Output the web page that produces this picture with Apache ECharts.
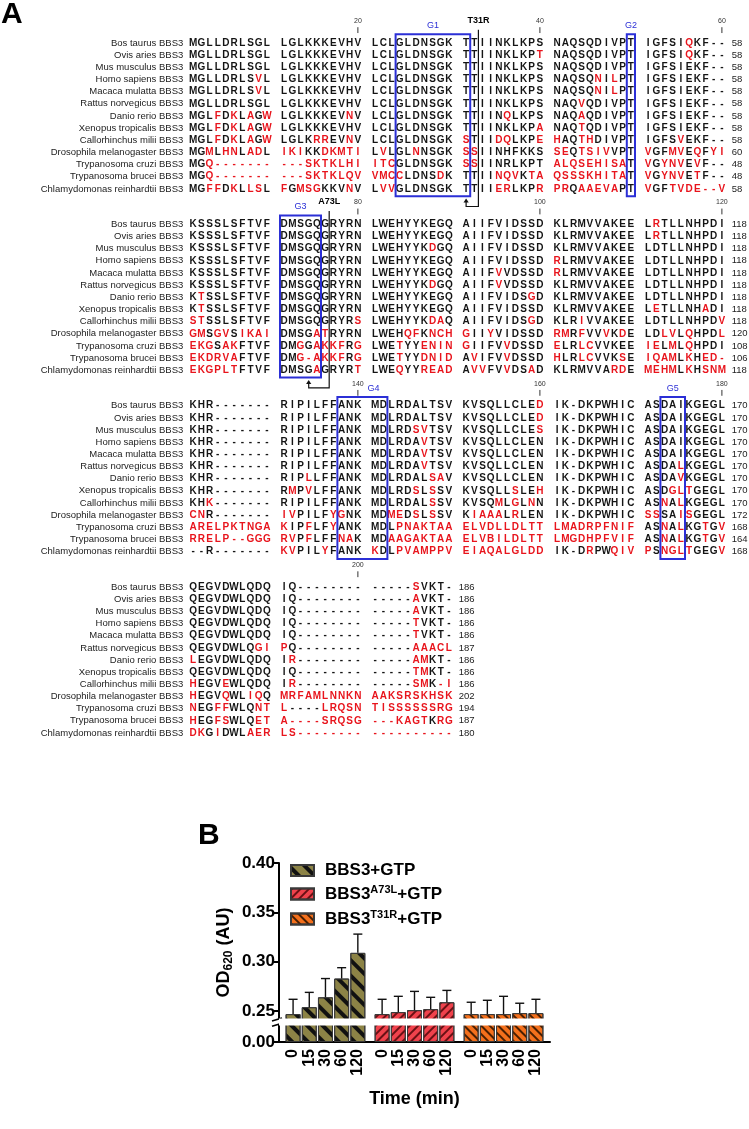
<!DOCTYPE html>
<html><head><meta charset="utf-8">
<script src="https://cdn.jsdelivr.net/npm/echarts@6/dist/echarts.min.js"></script>
<style>html,body{margin:0;padding:0;background:#fff}#c{width:749px;height:1129px}</style>
</head><body><div id="c"></div>
<script>
// ---------------- DATA: panel A (sequence alignment) ----------------
// lowercase = residue shown in red, "~" = red gap, "-" = black gap
const speciesNames = ['Bos taurus BBS3','Ovis aries BBS3','Mus musculus BBS3','Homo sapiens BBS3','Macaca mulatta BBS3','Rattus norvegicus BBS3','Danio rerio BBS3','Xenopus tropicalis BBS3','Callorhinchus milii BBS3','Drosophila melanogaster BBS3','Trypanosoma cruzi BBS3','Trypanosoma brucei BBS3','Chlamydomonas reinhardtii BBS3'];
const block1 = [
 'MGLLDRLSGL LGLKKKEVHV LCLGLDNSGK TTIINKLKPS NAQSQDIVPT IGFSIqKF--',
 'MGLLDRLSGL LGLKKKEVHV LCLGLDNSGK TTIINKLKPt NAQSQDIVPT IGFSIqKF--',
 'MGLLDRLSGL LGLKKKEVHV LCLGLDNSGK TTIINKLKPS NAQSQDIVPT IGFSIEKF--',
 'MGLLDRLSvL LGLKKKEVHV LCLGLDNSGK TTIINKLKPS NAQSQnIlPT IGFSIEKF--',
 'MGLLDRLSvL LGLKKKEVHV LCLGLDNSGK TTIINKLKPS NAQSQnIlPT IGFSIEKF--',
 'MGLLDRLSGL LGLKKKEVHV LCLGLDNSGK TTIINKLKPS NAQvQDIVPT IGFSIEKF--',
 'MGLfDkLaGw LGLKKKEVnV LCLGLDNSGK TTIINqLKPS NAQaQDIVPT IGFSIEKF--',
 'MGLfDkLaGw LGLKKKEVHV LCLGLDNSGK TTIINKLKPa NAQtQDIVPT IGFSIEKF--',
 'MGLfDkLaGw LGLKrrEVnV LCLGLDNSGK sTIIdqLKPe hAQthDIVPT IGFSvEKF--',
 'MGmLhnLadL ikiKKdkmti LvLGLnNSGK ssIINHFKKS seQtsivVPT vGFmvEqFyi',
 'MGq~~~~~~~ ~~~sktklhi itcGLDNSGK ssIINRLKPT alqsehisaT vGynvEvF--',
 'MGq~~~~~~~ ~~~sktklqv vmccLDNSdK TTIInqvKta qssskhitaT vGynvEtF--',
 'MGffDkLlsL fGmsgKKVnV LvvGLDNSGK TTIIerLKPr prQaaevaPT vGFtvde~~v'];
const block2 = [
 'KSSSLSFTVF DMSGQGRYRN LWEHYYKEGQ AIIFVIDSSD KLRMVVAKEE LrTLLNHPDI',
 'KSSSLSFTVF DMSGQGRYRN LWEHYYKEGQ AIIFVIDSSD KLRMVVAKEE LrTLLNHPDI',
 'KSSSLSFTVF DMSGQGRYRN LWEHYYKdGQ AIIFVIDSSD KLRMVVAKEE LDTLLNHPDI',
 'KSSSLSFTVF DMSGQGRYRN LWEHYYKEGQ AIIFVIDSSD rLRMVVAKEE LDTLLNHPDI',
 'KSSSLSFTVF DMSGQGRYRN LWEHYYKEGQ AIIFvVDSSD rLRMVVAKEE LDTLLNHPDI',
 'KSSSLSFTVF DMSGQGRYRN LWEHYYKdGQ AIIFvVDSSD KLRMVVAKEE LDTLLNHPDI',
 'KtSSLSFTVF DMSGQGRYRN LWEHYYKEGQ AIIFVIDSgD KLRMVVAKEE LDTLLNHPDI',
 'KtSSLSFTVF DMSGQGRYRN LWEHYYKEGQ AIIFVIDSSD KLRMVVAKEE LeTLLNHaDI',
 'stSSLSFTVF DMSGQGRYRs LWEHYYKdaQ AIIFVIDSgD KLRiVVAKEE LDTLLNHPDv',
 'gmSgvSikai DMSGatRYRN LWEHqfKnch gIIyVIDSSD rmRfVVvKdE LDlvLqHPDl',
 'ekgSakFTVF DMgGakkfRg LWEtYYenin gIIFVvDSSD eLRlcVVKEE ieLmLqHPDI',
 'ekdrvaFTVF DMg~akkfRg LWEtYYdnid AvIFVvDSSD hLRlcVVKsE iqamLkHed~',
 'ekgpltFTVF DMSGaGRYRt LWEqYYread AvvFVvDSaD KLRMVVArdE mehmLkHsnm'];
const block3 = [
 'KHR------- RIPILFFANK MDLRDALTSV KVSQLLCLEd IK-DKPWHIC ASDAIKGEGL',
 'KHR------- RIPILFFANK MDLRDALTSV KVSQLLCLEd IK-DKPWHIC ASDAIKGEGL',
 'KHR------- RIPILFFANK MDLRDsvTSV KVSQLLCLEs IK-DKPWHIC ASDAIKGEGL',
 'KHR------- RIPILFFANK MDLRDAvTSV KVSQLLCLEN IK-DKPWHIC ASDAIKGEGL',
 'KHR------- RIPILFFANK MDLRDAvTSV KVSQLLCLEN IK-DKPWHIC ASDAIKGEGL',
 'KHR------- RIPILFFANK MDLRDAvTSV KVSQLLCLEN IK-DKPWHIC ASDAlKGEGL',
 'KHR------- RIPlLFFANK MDLRDALsaV KVSQLLCLEN IK-DKPWHIC ASDAvKGEGL',
 'KHR------- RmPvLFFANK MDLRDsLsSV KVSQLLsLEh IK-DKPWHIC ASDgltGEGL',
 'KHk------- RIPILFFANK MDLRDALsSV KVSQmLgLnN IK-DKPWHIC ASnAlKGEGL',
 'cnR------- ivPILFygNK MDmeDsLsSV KiaaaLrLEN IK-DKPWHIC ssSAisGEGL',
 'arelpktnga kIPfLFyANK MDLpnaktaa elvdlldltt lmadrpfnif ASnAlKGtGv',
 'rrelp~~ggg rvPfLFFnaK MDaagaktaa elvbildltt lmgdhpfvif ASnAlKGtGv',
 '--R------- kvPILyFANK kDLpvamppv eiaqalgldd IK-DrPWqiv pSngltGEGv'];
const block4 = [
 'QEGVDWLQDQ IQ-------- -----sVKT-',
 'QEGVDWLQDQ IQ-------- -----aVKT-',
 'QEGVDWLQDQ IQ-------- -----aVKT-',
 'QEGVDWLQDQ IQ-------- -----tVKT-',
 'QEGVDWLQDQ IQ-------- -----tVKT-',
 'QEGVDWLQgi pQ-------- -----aaacl',
 'lEGVDWLQDQ Ir-------- -----amKT-',
 'QEGVDWLQDQ IQ-------- -----tmKT-',
 'hEGVeWLQDQ Ir-------- -----smK~i',
 'hEGVqWLiqQ mrfamlnnkn aaksrskhsk',
 'nEGffWLQnt l----lrqsn tissssssrg',
 'hEGfsWLQet a~~~~srqsg ~~~kagtKrg',
 'dkGiDWLaer ls~~~~~~~~ ~~~~~~~~~~'];
const block1Ends = [58,58,58,58,58,58,58,58,58,60,48,48,58];
const block2Ends = [118,118,118,118,118,118,118,118,118,120,108,106,118];
const block3Ends = [170,170,170,170,170,170,170,170,170,172,168,164,168];
const block4Ends = [186,186,186,186,186,187,186,186,186,202,194,187,180];
const blockFirstResidue = [1,61,121,181];
const rulerMarks = [[0,20],[0,40],[0,60],[1,80],[1,100],[1,120],[2,140],[2,160],[2,180],[3,200]];
const motifNames = ['G1','G2','G3','G4','G5'];
const motifBlocks = [0,0,1,2,2];
const motifFrom = [24,50,71,138,173];
const motifTo   = [31,50,75,142,175];
const mutationNames = ['T31R','A73L'];
const mutationBlocks = [0,1];
const mutationLinePos = [32,76];
const mutationArrowPos = [31,74];

// ---------------- DATA: panel B (GTPase assay) ----------------
const timeLabels = ['0','15','30','60','120'];
const seriesNames = ['BBS3+GTP','BBS3 A73L+GTP','BBS3 T31R+GTP'];
const seriesSup = ['','A73L','T31R'];
const wtMean   = [0.247,0.254,0.264,0.283,0.309];
const wtErr    = [0.015,0.015,0.019,0.011,0.019];
const a73lMean = [0.247,0.249,0.251,0.252,0.259];
const a73lErr  = [0.015,0.016,0.019,0.012,0.012];
const t31rMean = [0.247,0.247,0.247,0.248,0.248];
const t31rErr  = [0.012,0.014,0.018,0.010,0.014];
const yTickValues = [0, 0.25, 0.30, 0.35, 0.40];

// ---------------- layout helpers ----------------
const GAP = 1.1, P = 14.92;
const RED = '#e8141c', BLK = '#141414', BLUE = '#2b2fd6';
const SEQFONT = 'bold 10px "Liberation Sans", Arial, sans-serif';
const NARROW = '"Liberation Sans Narrow","Arial Narrow","Liberation Sans",Arial,sans-serif';
function colOf(j){ return j + Math.floor(j/10)*GAP; }
const blocks = [block1, block2, block3, block4];
const blockEnds = [block1Ends, block2Ends, block3Ends, block4Ends];

const resText = [], resData = [];
const nameData = [], endText = [], endData = [];
blocks.forEach((blk,b)=>blk.forEach((s,r)=>{
  const str = s.replace(/ /g,'');
  for (let j=0;j<str.length;j++){
    const ch = str[j];
    const red = ch==='~' || (ch>='a' && ch<='z');
    resText.push(ch==='~' ? '-' : ch.toUpperCase());
    resData.push([colOf(j)+0.5, b*P+r, red?1:0]);
  }
  nameData.push([-0.7, b*P+r, r]);
  endText.push(String(blockEnds[b][r]));
  endData.push([colOf(str.length-1)+1.7, b*P+r]);
}));
const rulerData = rulerMarks.map(m=>[colOf(m[1]-blockFirstResidue[m[0]])+0.5, m[0]*P, m[1]]);
const boxData = motifNames.map((n,i)=>{const b=motifBlocks[i], f=blockFirstResidue[b];
  return [colOf(motifFrom[i]-f), colOf(motifTo[i]-f)+1, b*P, i];});
const mutData = mutationNames.map((n,i)=>{const b=mutationBlocks[i], f=blockFirstResidue[b];
  return [colOf(mutationLinePos[i]-f)+1, colOf(mutationArrowPos[i]-f)+0.5, b*P, i];});

// ---------------- panel B data ----------------
const means = [wtMean, a73lMean, t31rMean];
const errs = [wtErr, a73lErr, t31rErr];
const barStyles = [
  {color:'#8c8346', decal:{symbol:'rect', symbolSize:1, dashArrayX:[1,0], dashArrayY:[4,7], rotation:Math.PI/4, color:'#111'}},
  {color:'#f0424c', decal:{symbol:'rect', symbolSize:1, dashArrayX:[1,0], dashArrayY:[1.6,3.2], rotation:-Math.PI/4, color:'#6a1014'}},
  {color:'#f4701c', decal:{symbol:'rect', symbolSize:1, dashArrayX:[1,0], dashArrayY:[1.6,3.2], rotation:Math.PI/4, color:'#4a1e00'}}
];
const barPos = (g,i)=> g*5.5 + i;
const barCustomValues = [];
[0,1,2].forEach(g=>timeLabels.forEach((t,i)=>barCustomValues.push(barPos(g,i))));

const seriesB = [];
means.forEach((m,g)=>{
  seriesB.push({
    type:'bar', name:seriesNames[g], xAxisIndex:1, yAxisIndex:1, barWidth:15, barGap:'-100%',
    data:m.map((v,i)=>[barPos(g,i), v]),
    itemStyle:{color:barStyles[g].color, borderColor:'#3a3a3a', borderWidth:1, decal:barStyles[g].decal},
    z:2
  });
  seriesB.push({
    type:'custom', xAxisIndex:1, yAxisIndex:1, z:5,
    data:m.map((v,i)=>[barPos(g,i), v, v+errs[g][i]]),
    renderItem:(params, api)=>{
      const a = api.coord([api.value(0), api.value(1)]);
      const t = api.coord([api.value(0), api.value(2)]);
      return {type:'group', children:[
        {type:'line', shape:{x1:a[0], y1:a[1], x2:t[0], y2:t[1]}, style:{stroke:'#111', lineWidth:1.4}},
        {type:'line', shape:{x1:t[0]-4.5, y1:t[1], x2:t[0]+4.5, y2:t[1]}, style:{stroke:'#111', lineWidth:1.4}}
      ]};
    }
  });
});
// axis-break marks on the y axis (at the two break bounds)
seriesB.push({
  type:'custom', xAxisIndex:1, yAxisIndex:1, z:6, clip:false, silent:true,
  data:[[0.017],[0.243]],
  renderItem:(params, api)=>{
    const p = api.coord([-0.87, api.value(0)]);
    const dy = params.dataIndex===0 ? -1 : 1;
    return {type:'line', shape:{x1:p[0]-7, y1:p[1]+dy+2, x2:p[0]+3, y2:p[1]+dy-1}, style:{stroke:'#000', lineWidth:1.6}};
  }
});

// ---------------- chart ----------------
const chart = echarts.init(document.getElementById('c'), null, {renderer:'canvas'});
const option = {
  animation:false,
  backgroundColor:'#fff',
  title:[
    {text:'A', left:1, top:0, padding:0, textStyle:{fontSize:30, fontWeight:'bold', color:'#000', fontFamily:'"Liberation Sans",Arial,sans-serif'}},
    {text:'B', left:198, top:821, padding:0, textStyle:{fontSize:30, fontWeight:'bold', color:'#000', fontFamily:'"Liberation Sans",Arial,sans-serif'}}
  ],
  legend:{
    data:seriesNames, orient:'vertical', left:285, top:857, itemWidth:23, itemHeight:11, itemGap:5,
    icon:'rect', selectedMode:false,
    formatter:name=>{const i=seriesNames.indexOf(name); return seriesSup[i] ? '{t|BBS3}{s|'+seriesSup[i]+'}{t|+GTP}' : '{t|'+name+'}';},
    textStyle:{padding:[0,0,0,6], rich:{
      t:{fontSize:17, fontWeight:'bold', color:'#000', fontFamily:NARROW, lineHeight:21},
      s:{fontSize:11, fontWeight:'bold', color:'#000', fontFamily:NARROW, padding:[0,0,9,0], lineHeight:21}
    }}
  },
  grid:[
    {left:189, right:23, top:43, bottom:396},
    {left:279, right:199, top:863, bottom:87}
  ],
  xAxis:[
    {gridIndex:0, type:'value', min:0, max:65.5, show:false},
    {gridIndex:1, type:'value', min:-0.87, max:15.87,
     axisLine:{show:true, onZero:false, lineStyle:{color:'#000', width:2}},
     axisTick:{show:false}, splitLine:{show:false},
     axisLabel:{customValues:barCustomValues, rotate:90, margin:7, color:'#000', fontSize:16, fontWeight:'bold', fontFamily:NARROW,
       formatter:v=>{const g=Math.floor((v+0.25)/5.5); return timeLabels[Math.round(v-g*5.5)];}},
     name:'Time (min)', nameLocation:'middle', nameGap:48,
     nameTextStyle:{fontSize:18, fontWeight:'bold', color:'#000', fontFamily:NARROW}}
  ],
  yAxis:[
    {gridIndex:0, type:'value', min:0, max:3*P+12, inverse:true, show:false},
    {gridIndex:1, type:'value', min:0, max:0.4, interval:0.05,
     breaks:[{start:0.017, end:0.243, gap:'4%'}],
     breakArea:{show:true, itemStyle:{color:'#fff', borderColor:'#fff', borderWidth:0, opacity:1}, zigzagAmplitude:0, zigzagZ:100},
     axisLine:{show:true, onZero:false, lineStyle:{color:'#000', width:2}},
     axisTick:{show:true, length:5, customValues:yTickValues, lineStyle:{color:'#000', width:2}},
     splitLine:{show:false},
     axisLabel:{customValues:yTickValues, hideOverlap:false, margin:4, color:'#000', fontSize:17, fontWeight:'bold', fontFamily:NARROW,
       formatter:v=>v.toFixed(2)},
     name:'{t|OD}{sub|620}{t| (AU)}', nameLocation:'middle', nameGap:44, nameRotate:90,
     nameTextStyle:{rich:{
       t:{fontSize:18, fontWeight:'bold', color:'#000', fontFamily:NARROW},
       sub:{fontSize:12, fontWeight:'bold', color:'#000', fontFamily:NARROW, padding:[9,0,0,0]}
     }}}
  ],
  series:[
    {type:'custom', xAxisIndex:0, yAxisIndex:0, clip:false, silent:true, data:resData, z:2,
     renderItem:(params, api)=>{const p=api.coord([api.value(0), api.value(1)]);
       return {type:'text', x:p[0], y:p[1], style:{text:resText[params.dataIndex], fill:api.value(2)?RED:BLK, font:SEQFONT, align:'center', verticalAlign:'middle'}};}},
    {type:'custom', xAxisIndex:0, yAxisIndex:0, clip:false, silent:true, data:nameData, z:2,
     renderItem:(params, api)=>{const p=api.coord([api.value(0), api.value(1)]);
       return {type:'text', x:p[0], y:p[1], style:{text:speciesNames[api.value(2)], fill:'#222', font:'9.5px "Liberation Sans", Arial, sans-serif', align:'right', verticalAlign:'middle'}};}},
    {type:'custom', xAxisIndex:0, yAxisIndex:0, clip:false, silent:true, data:endData, z:2,
     renderItem:(params, api)=>{const p=api.coord([api.value(0), api.value(1)]);
       return {type:'text', x:p[0], y:p[1], style:{text:endText[params.dataIndex], fill:'#222', font:'9.5px "Liberation Sans", Arial, sans-serif', align:'left', verticalAlign:'middle'}};}},
    {type:'custom', xAxisIndex:0, yAxisIndex:0, clip:false, silent:true, data:rulerData, z:2,
     renderItem:(params, api)=>{const x=api.value(0), yb=api.value(1);
       const pl=api.coord([x, yb-1.8]), t1=api.coord([x, yb-1.3]), t2=api.coord([x, yb-0.82]);
       return {type:'group', children:[
         {type:'text', x:pl[0], y:pl[1], style:{text:String(api.value(2)), fill:'#333', font:'7px "Liberation Sans", Arial, sans-serif', align:'center', verticalAlign:'middle'}},
         {type:'line', shape:{x1:t1[0], y1:t1[1], x2:t2[0], y2:t2[1]}, style:{stroke:'#333', lineWidth:1}}
       ]};}},
    {type:'custom', xAxisIndex:0, yAxisIndex:0, clip:false, silent:true, data:boxData, z:4,
     renderItem:(params, api)=>{const x0=api.value(0), x1=api.value(1), yb=api.value(2), i=api.value(3);
       const a=api.coord([x0, yb-0.72]), c=api.coord([x1, yb+12.6]);
       let lx=(a[0]+c[0])/2; if (motifNames[i]==='G4') lx += 11;
       const ly=api.coord([x0, yb-1.45])[1];
       return {type:'group', children:[
         {type:'rect', shape:{x:a[0], y:a[1], width:c[0]-a[0], height:c[1]-a[1]}, style:{fill:'none', stroke:BLUE, lineWidth:2}},
         {type:'text', x:lx, y:ly, style:{text:motifNames[i], fill:BLUE, font:'9px "Liberation Sans", Arial, sans-serif', align:'center', verticalAlign:'middle'}}
       ]};}},
    {type:'custom', xAxisIndex:0, yAxisIndex:0, clip:false, silent:true, data:mutData, z:5,
     renderItem:(params, api)=>{const xl=api.value(0), xa=api.value(1), yb=api.value(2), i=api.value(3);
       const top=api.coord([xl, yb-1.1]), bot=api.coord([xl, yb+13.45]), ab=api.coord([xa, yb+13.45]), tip=api.coord([xa, yb+12.8]);
       const lab=api.coord([xl, yb-1.5]);
       return {type:'group', children:[
         {type:'polyline', shape:{points:[[top[0],top[1]],[bot[0],bot[1]],[ab[0],ab[1]],[tip[0],tip[1]+3]]}, style:{stroke:'#111', lineWidth:1.2, fill:'none'}},
         {type:'polygon', shape:{points:[[tip[0],tip[1]],[tip[0]-2.6,tip[1]+4],[tip[0]+2.6,tip[1]+4]]}, style:{fill:'#111'}},
         {type:'text', x:lab[0], y:lab[1], style:{text:mutationNames[i], fill:'#000', font:'bold 9px "Liberation Sans", Arial, sans-serif', align:'center', verticalAlign:'bottom'}}
       ]};}}
  ].concat(seriesB)
};
chart.setOption(option);
</script>
</body></html>
